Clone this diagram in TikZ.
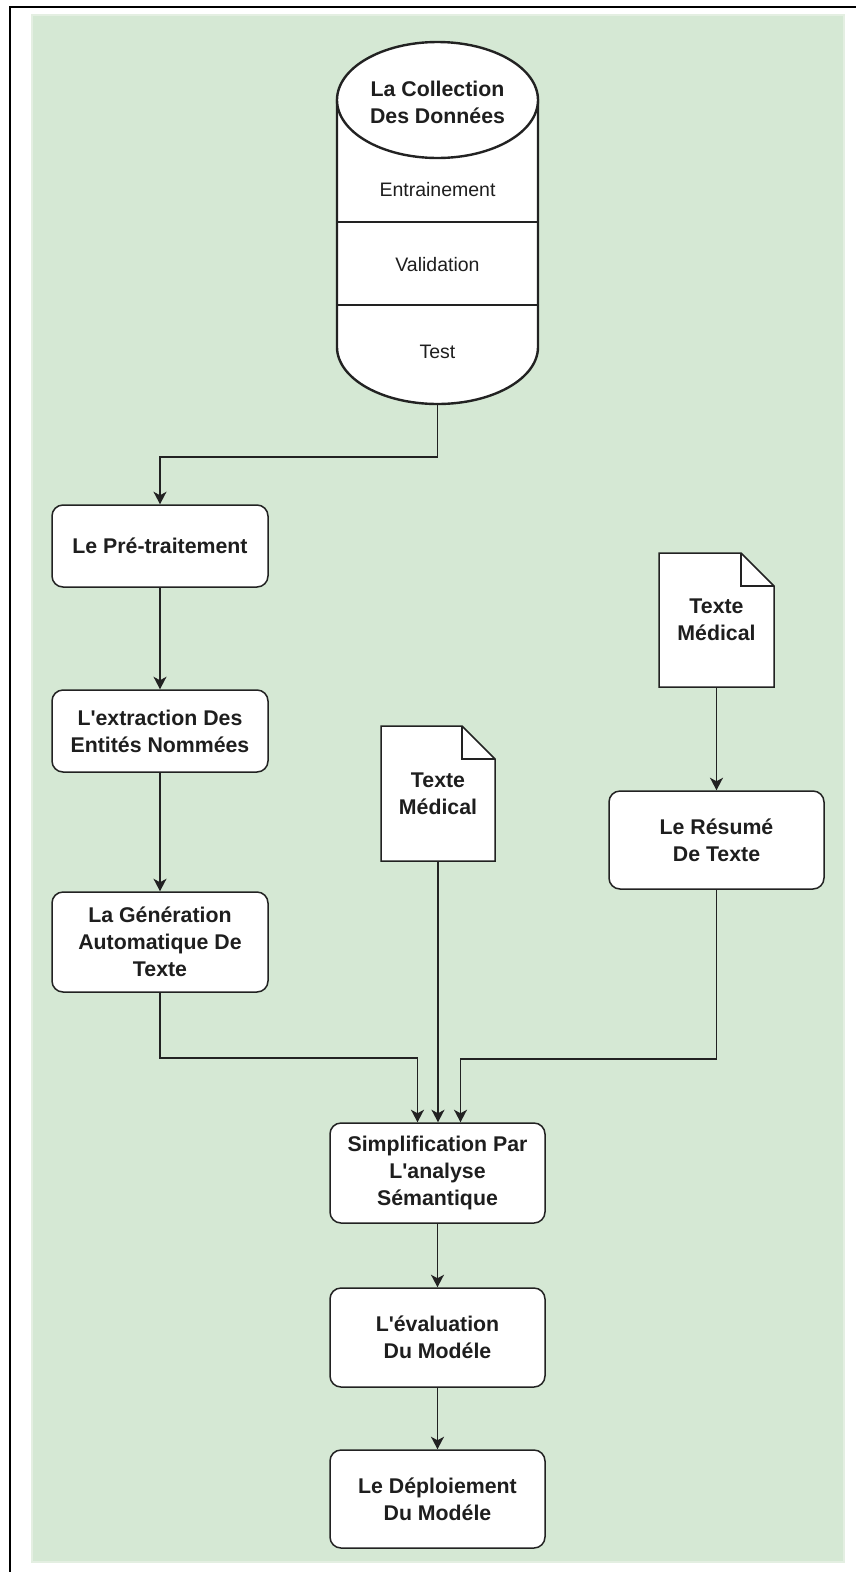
\documentclass[tikz,border=0pt]{standalone}
\usepackage{fontspec}
\setmainfont{Liberation Sans}
\usetikzlibrary{arrows.meta,calc}

\definecolor{panelgreen}{HTML}{D5E8D4}
\definecolor{panelrim}{HTML}{E4EFE2}
\definecolor{inkline}{HTML}{222222}
\definecolor{inktext}{HTML}{1E1E1E}

\newcommand{\apos}{\textquotesingle}

\tikzset{
  boldlabel/.style={font=\fontsize{21.3}{27}\selectfont\bfseries, text=inktext},
  plainlabel/.style={font=\fontsize{19.5}{24}\selectfont, text=inktext},
  stagebox/.style={boldlabel, draw=inkline, line width=1.5pt, fill=white,
    rounded corners=11pt, align=center, inner sep=0pt,
    minimum width=216pt},
  docshape/.style={draw=inkline, line width=1.5pt, fill=white, line join=miter},
  cylshape/.style={draw=inkline, line width=2.4pt, fill=white},
  flow/.style={draw=inkline, line width=1.5pt,
    -{Stealth[length=12.5pt,width=13pt,inset=3.5pt]}},
}

\begin{document}
\begin{tikzpicture}[x=1pt,y=-1pt]
\useasboundingbox (0,0) rectangle (856,1572);

% outer frame (left and top edges)
\draw[black, line width=2pt] (9.5,1572) -- (9.5,7) -- (856,7);

% green panel
\fill[panelgreen, draw=panelrim, line width=1.5pt] (32,15) rectangle (844,1562);

% ---- data store cylinder ----
\path[cylshape] (337,100) -- (337,347)
  arc[start angle=180, end angle=0, x radius=100.5, y radius=57]
  -- (538,100) -- cycle;
\draw[cylshape] (437.5,100) ellipse[x radius=100.5, y radius=58];
\draw[inkline, line width=1.5pt] (337,222) -- (538,222);
\draw[inkline, line width=1.5pt] (337,305) -- (538,305);
\node[boldlabel, align=center] (dbtitle) at (437.5,102) {La Collection\\Des Donn\'ees};
\node[plainlabel] (train) at (437.5,190) {Entrainement};
\node[plainlabel] (valid) at (437.5,265) {Validation};
\node[plainlabel] (test) at (437.5,352) {Test};
\coordinate (dbout) at (437.5,405);

% ---- documents with folded corner ----
\coordinate (d1) at (438,793.5);
\coordinate (d2) at (716.5,620);
\foreach \c/\hw/\hh in {d1/57/67.5, d2/57.5/67}{
  \draw[docshape] ($(\c)+(-\hw,-\hh)$) -- ($(\c)+(\hw-33,-\hh)$)
    -- ($(\c)+(\hw,-\hh+33)$) -- ($(\c)+(\hw,\hh)$)
    -- ($(\c)+(-\hw,\hh)$) -- cycle;
  \draw[docshape, fill=none] ($(\c)+(\hw-33,-\hh)$) -- ($(\c)+(\hw-33,-\hh+33)$)
    -- ($(\c)+(\hw,-\hh+33)$);
}
\node[boldlabel, align=center, minimum width=114pt, minimum height=135pt, inner sep=0pt]
  (doc1) at (d1) {Texte\\M\'edical};
\node[boldlabel, align=center, minimum width=115pt, minimum height=134pt, inner sep=0pt]
  (doc2) at (d2) {Texte\\M\'edical};

% ---- processing stages ----
\node[stagebox, minimum height=82pt] (pre) at (160,546) {Le Pr\'e-traitement};
\node[stagebox, minimum height=82pt] (ner) at (160,731) {L\apos extraction Des\\Entit\'es Nomm\'ees};
\node[stagebox, minimum height=100pt] (gen) at (160,942) {La G\'en\'eration\\Automatique De\\Texte};
\node[stagebox, minimum width=215pt, minimum height=98pt] (sum) at (716.5,840) {Le R\'esum\'e\\De Texte};
\node[stagebox, minimum width=215pt, minimum height=100pt] (simp) at (437.5,1173) {Simplification Par\\L\apos analyse\\S\'emantique};
\node[stagebox, minimum width=215pt, minimum height=99pt] (eval) at (437.5,1337.5) {L\apos\'evaluation\\Du Mod\'ele};
\node[stagebox, minimum width=215pt, minimum height=98pt] (deploy) at (437.5,1499) {Le D\'eploiement\\Du Mod\'ele};

% ---- connectors ----
\draw[flow] (dbout) -- ++(0,52) -| (pre.north);
\draw[flow] (pre.south) -- (ner.north);
\draw[flow] (ner.south) -- (gen.north);
\draw[flow] (doc2.south) -- (sum.north);
\draw[flow] (gen.south) -- ++(0,65) -| ([xshift=-20pt]simp.north);
\draw[flow] (doc1.south) -- (doc1.south |- simp.north);
\draw[flow] (sum.south) -- ++(0,169) -| ([xshift=23pt]simp.north);
\draw[flow] (simp.south) -- (eval.north);
\draw[flow] (eval.south) -- (deploy.north);
\end{tikzpicture}
\end{document}
